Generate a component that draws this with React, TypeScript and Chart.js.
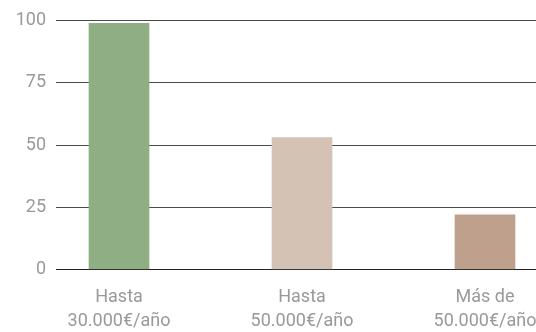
import React, { useEffect, useRef } from "react";
import { Chart, registerables } from "chart.js";

Chart.register(...registerables);

const categories: string[][] = [
  ["Hasta", "30.000€/año"],
  ["Hasta", "50.000€/año"],
  ["Más de", "50.000€/año"],
];
const values: number[] = [99, 53, 22];
const barColors: string[] = ["#8FAE83", "#D4C2B5", "#BEA08C"];
const yTicks: number[] = [0, 25, 50, 75, 100];

export default function App() {
  const ref = useRef<HTMLCanvasElement | null>(null);

  useEffect(() => {
    if (!ref.current) return;
    const chart = new Chart(ref.current, {
      type: "bar",
      data: {
        datasets: [
          {
            data: values.map((v, i) => ({ x: i, y: v })),
            backgroundColor: barColors,
            borderWidth: 0,
            barThickness: 60,
          },
        ],
      },
      options: {
        animation: false,
        responsive: false,
        devicePixelRatio: 1,
        layout: { padding: { left: 0, right: 0, top: 11, bottom: 0 } },
        plugins: { legend: { display: false }, tooltip: { enabled: false } },
        scales: {
          x: {
            type: "linear",
            offset: false,
            bounds: "data",
            min: -0.3443,
            max: 2.6284,
            grid: { display: false, offset: false },
            border: { display: false },
            afterBuildTicks: (scale: any) => {
              scale.ticks = categories.map((_, i) => ({ value: i }));
            },
            afterFit: (scale: any) => {
              scale.height = 62.5;
            },
            ticks: {
              color: "#999999",
              font: { family: "Roboto", size: 18, lineHeight: 1.32 },
              padding: 8,
              maxRotation: 0,
              autoSkip: false,
              callback: (v: any) => categories[Number(v)] ?? "",
            },
          },
          y: {
            min: 0,
            max: 100,
            afterBuildTicks: (scale: any) => {
              scale.ticks = yTicks.map((v) => ({ value: v }));
            },
            afterFit: (scale: any) => {
              scale.width = 56;
            },
            grid: {
              drawTicks: false,
              color: (ctx: any) => (ctx.tick && ctx.tick.value === 0 ? "#222222" : "#4a4a4a"),
              lineWidth: 1,
            },
            border: { display: false },
            ticks: {
              color: "#999999",
              padding: 10,
              font: { family: "Roboto", size: 18 },
            },
          },
        },
      },
    });
    return () => chart.destroy();
  }, []);

  return (
    <div
      style={{
        position: "fixed",
        left: 0,
        top: 0,
        width: 536,
        height: 332,
        overflow: "hidden",
        background: "#ffffff",
      }}
    >
      <canvas ref={ref} width={600} height={332} style={{ display: "block", width: 600, height: 332 }} />
    </div>
  );
}
